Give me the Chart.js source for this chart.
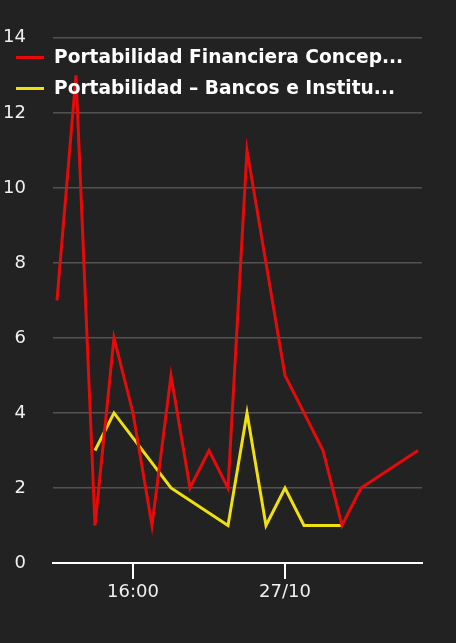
<!DOCTYPE html>
<html>
<head>
<meta charset="utf-8">
<script src="https://cdn.jsdelivr.net/npm/chart.js@4/dist/chart.umd.min.js"></script>
<style>
  html, body { margin: 0; padding: 0; background: #222222; }
  #wrap { position: relative; width: 456px; height: 643px; }
  #c { position: absolute; left: 0; top: 0; }
  .lg { position: absolute; left: 0; height: 20px; }
  .sw { position: absolute; left: 16px; width: 28px; height: 3px; top: 9px; }
  .tx { position: absolute; left: 54px; top: 0; line-height: 20px; white-space: nowrap;
        font-family: "DejaVu Sans", sans-serif; font-weight: bold; font-size: 18.6px; color: #ffffff; }
</style>
</head>
<body>
<div id="wrap">
  <canvas id="c" width="456" height="643"></canvas>
  <div class="lg" style="top:47px"><div class="sw" style="background:#e60a0a"></div><div class="tx" id="l0"></div></div>
  <div class="lg" style="top:78px"><div class="sw" style="background:#f0e010"></div><div class="tx" id="l1"></div></div>
</div>
<script>
// Hours counted from 00:00 on 26/10 (24 = 00:00 on 27/10)
const seriesNames = ["Portabilidad Financiera Concep...", "Portabilidad \u2013 Bancos e Institu..."];
const redHours   = [12, 13, 14, 15, 16, 17, 18, 19, 20, 21, 22, 23, 24, 25, 26, 27, 28, 31];
const redValues  = [7, 13, 1, 6, 4, 1, 5, 2, 3, 2, 11, 8, 5, 4, 3, 1, 2, 3];
const yellowHours  = [14, 15, 18, 21, 22, 23, 24, 25, 26, 27];
const yellowValues = [3, 4, 2, 1, 4, 1, 2, 1, 1, 1];
const xTickHours  = [16, 24];
const xTickLabels = ["16:00", "27/10"];
const yTicks = [0, 2, 4, 6, 8, 10, 12, 14];

document.getElementById('l0').textContent = seriesNames[0];
document.getElementById('l1').textContent = seriesNames[1];

const toPts = (hs, vs) => hs.map((h, i) => ({ x: h, y: vs[i] }));

new Chart(document.getElementById('c'), {
  type: 'line',
  data: {
    datasets: [
      { label: seriesNames[0], data: toPts(redHours, redValues), borderColor: '#e60a0a', borderWidth: 3, pointRadius: 0, tension: 0, fill: false },
      { label: seriesNames[1], data: toPts(yellowHours, yellowValues), borderColor: '#f0e010', borderWidth: 3, pointRadius: 0, tension: 0, fill: false }
    ]
  },
  options: {
    responsive: false,
    animation: false,
    events: [],
    layout: { padding: { top: 32, right: 34, left: 0, bottom: 0 } },
    plugins: { legend: { display: false }, tooltip: { enabled: false } },
    scales: {
      x: {
        type: 'linear',
        min: 11.79,
        max: 31.21,
        afterBuildTicks: (s) => { s.ticks = xTickHours.map(v => ({ value: v })); },
        afterFit: (s) => { s.height = 80; },
        ticks: {
          autoSkip: false, maxRotation: 0, padding: 3,
          color: '#f0f0f0',
          font: { family: 'DejaVu Sans', size: 18 },
          callback: (v) => { const i = xTickHours.indexOf(v); return i >= 0 ? xTickLabels[i] : ''; }
        },
        grid: { drawOnChartArea: false, drawTicks: true, tickLength: 16, color: '#ffffff', lineWidth: 2 },
        border: { display: true, color: '#ffffff', width: 2 }
      },
      y: {
        min: 0, max: 14,
        afterBuildTicks: (s) => { s.ticks = yTicks.map(v => ({ value: v })); },
        afterFit: (s) => { s.width = 53; },
        ticks: {
          padding: 27,
          color: '#f0f0f0',
          font: { family: 'DejaVu Sans', size: 18 }
        },
        grid: { color: '#525252', lineWidth: 1.5, drawTicks: false },
        border: { display: false }
      }
    }
  }
});
</script>
</body>
</html>
